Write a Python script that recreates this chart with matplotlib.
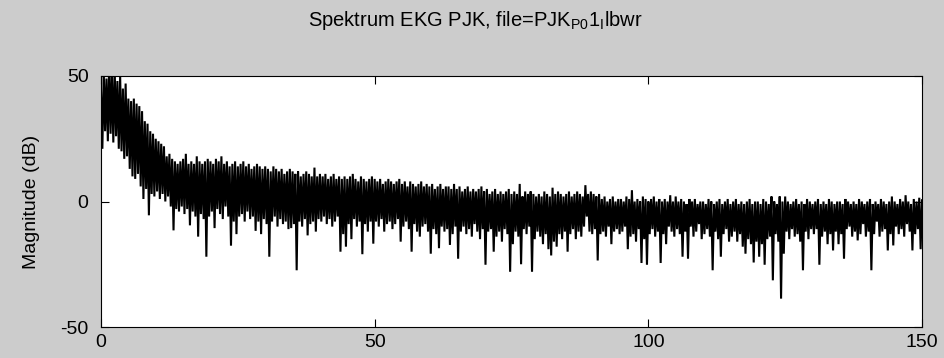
import numpy as np
import matplotlib
matplotlib.use("Agg")
import matplotlib.pyplot as plt

# ---- data (dB) ----
# local maxima of the spectrum, every 0.5 Hz starting at 0 Hz
peaks_db = [
    44, 52, 49, 55, 51, 53, 48, 50, 45, 47,
    41, 40, 41, 39, 38, 36, 32, 31, 28, 27,
    25, 24, 23, 22, 18, 19, 17, 16, 15, 16,
    17, 19, 15, 16, 15, 18, 16, 15, 16, 17,
    16, 15, 17, 16, 18, 15, 16, 14, 15, 16,
    14, 15, 16, 14, 15, 13, 14, 15, 14, 13,
    14, 13, 12, 14, 13, 12, 13, 11, 12, 13,
    12, 11, 12, 10, 11, 12, 11, 10, 13.5, 10,
    11, 10, 11, 9, 10, 11, 9, 10, 9, 10,
    9, 10, 11, 9, 8, 10, 9, 8, 9, 10,
    9, 8, 9, 7, 8, 9, 8, 7, 8, 9,
    7, 8, 6, 8, 7, 6, 7, 8, 6, 7,
    6, 7, 5, 6, 7, 5, 6, 6, 5, 7,
    5, 6, 4, 5, 6, 4, 5, 4, 5, 6,
    4, 5, 3, 4, 5, 3, 4, 3, 4, 5,
    3, 4, 3, 7, 2, 4, 3, 4, 3, 2,
    3, 2, 4, 3, 2, 5.5, 3, 4, 3, 2,
    3, 4, 2, 3, 4, 3, 2, 6.5, 3, 4,
    3, 2, 3, 1, 2, 0, 1, 2, 0, 1,
    1, 0, 2, 1, 4.5, 0, 1, 0, 2, 1,
    0, 1, 2, 0, 1, 0, 1, 0, 2.5, 0,
    2, 0, 1, 0, -1, 1, 0, 1, -1, 0,
    0, -1, 1, 0, -1, 0, 1, -1, 0, 1,
    -1, 0, 1, -1, 0, -1, 0, 1, -1, 0,
    0, -1, 1, 0, -1, 2, 0, -1, 2, 0,
    2, 0, -1, 0, 1, -1, 0, -1, 1, 0,
    -1, 0, 1, -1, 0, -1, 1, 0, -1, 0,
    0, -1, 1, 0, -1, 0, -1, 1, 0, -1,
    0, 1, -1, 0, -1, 1, 0, -1, 0, 2,
    0, -1, 1, 0, 2.5, 0, -1, 1, 0, 1.5,
    0.5,
]

# local minima of the spectrum, every 0.5 Hz starting at 0.25 Hz
troughs_db = [
    21, 28, 24, 27, 23.5, 26, 21, 20, 17, 18,
    13, 10, 9, 11, 6, 1, 5, -5.5, 3, 2,
    4, 1, 3, 0, 2, -2, -11.5, -3, -4, -2,
    -5, -3, -9.5, -4, -6, -14, -5, -7, -22, -6,
    -4, -10.6, -3, -5, -7, -2, -6, -17.6, -8, -13,
    -6, -5, -8, -4, -7, -6, -11.7, -8, -13, -7,
    -9, -22, -8, -6, -10, -7, -9, -8, -11, -10.6,
    -9, -27.4, -8, -10, -7, -13.5, -9, -8, -12, -7,
    -8, -6, -9, -7, -10, -8, -6, -20, -13, -18,
    -9, -15, -7, -10, -8, -21, -9, -12, -8, -16.8,
    -8, -10, -7, -12, -9, -8, -11, -9, -7, -16,
    -10, -8, -11, -20, -9, -12, -14, -10, -9, -12,
    -20.8, -11, -13, -18.6, -10, -12, -11, -17.3, -13, -10,
    -22.8, -12, -10, -13, -11, -14, -9, -12, -15, -11,
    -25.2, -12, -11, -20, -14, -12, -16, -11, -13, -28,
    -17, -12, -14, -25, -11, -13, -10, -28, -15, -12,
    -14, -17, -13, -19, -21.5, -16, -18, -13, -15, -12,
    -20, -13, -11, -15, -12, -14, -10, -6, -12, -13,
    -11, -23.5, -13, -12, -14, -10, -17, -12, -11, -13,
    -12, -10, -19, -14, -13, -16, -11, -24.5, -15, -25.2,
    -13, -11, -14, -12, -24.5, -13, -17, -10, -12, -14,
    -11, -13, -22, -12, -22.8, -10, -14, -12, -9, -15,
    -13, -11, -14, -27.4, -12, -15, -22, -13, -11, -16,
    -14, -12, -16, -13, -18, -20.8, -15, -17, -24.3, -16,
    -22, -17, -25.2, -15, -14, -31.4, -13, -16, -38.7, -20.8,
    -12, -15, -11, -14, -13, -16, -27.4, -12, -15, -11,
    -13, -11, -25.2, -14, -12, -17, -13, -19.5, -12, -17,
    -13, -22.8, -11, -10, -14, -12, -15.5, -13, -9, -14,
    -12, -27.4, -13, -8, -14, -12, -11, -19.5, -13, -17.5,
    -10, -13, -11, -14, -9, -12, -19.5, -13, -11, -19,
]

x_ticks = [0, 50, 100, 150]
y_ticks = [-50, 0, 50]
title_text = r"Spektrum EKG PJK, file=PJK$_{\mathrm{P0}}$1$_{\mathrm{I}}$lbwr"
y_label = "Magnitude (dB)"

# ---- build the spectrum line: maxima and minima alternate ----
peaks = np.asarray(peaks_db, dtype=float)
troughs = np.asarray(troughs_db, dtype=float)
magnitude = np.empty(peaks.size + troughs.size)
magnitude[0::2] = peaks
magnitude[1::2] = troughs
freq = np.arange(magnitude.size) * 0.25

plt.rcParams["font.family"] = ["Liberation Sans", "DejaVu Sans"]
plt.rcParams["mathtext.fontset"] = "custom"
plt.rcParams["mathtext.rm"] = "Liberation Sans"
plt.rcParams["mathtext.it"] = "Liberation Sans"
plt.rcParams["axes.unicode_minus"] = False

fig = plt.figure(figsize=(9.44, 3.58), dpi=100, facecolor="#cccccc")
ax = fig.add_axes([101 / 944, 1 - 327 / 358, 821 / 944, 251 / 358])
ax.set_facecolor("white")
ax.plot(freq, magnitude, color="black", linewidth=1.5, solid_joinstyle="miter")
ax.set_xlim(0, 150)
ax.set_ylim(-50, 50)
ax.set_xticks(x_ticks)
ax.set_yticks(y_ticks)
ax.tick_params(direction="in", length=6, width=0.8, top=True, right=True,
               labelsize=14, colors="black")
ax.tick_params(axis="y", pad=9)
ax.tick_params(axis="x", pad=5)
for s in ax.spines.values():
    s.set_linewidth(0.8)
ax.set_ylabel(y_label, fontsize=14)
ax.yaxis.set_label_coords(-0.074, 0.5)
fig.text(475 / 944, 1 - 20 / 358, title_text, ha="center", va="center",
         fontsize=14.5)

fig.savefig("out.png", dpi=100, facecolor=fig.get_facecolor())
